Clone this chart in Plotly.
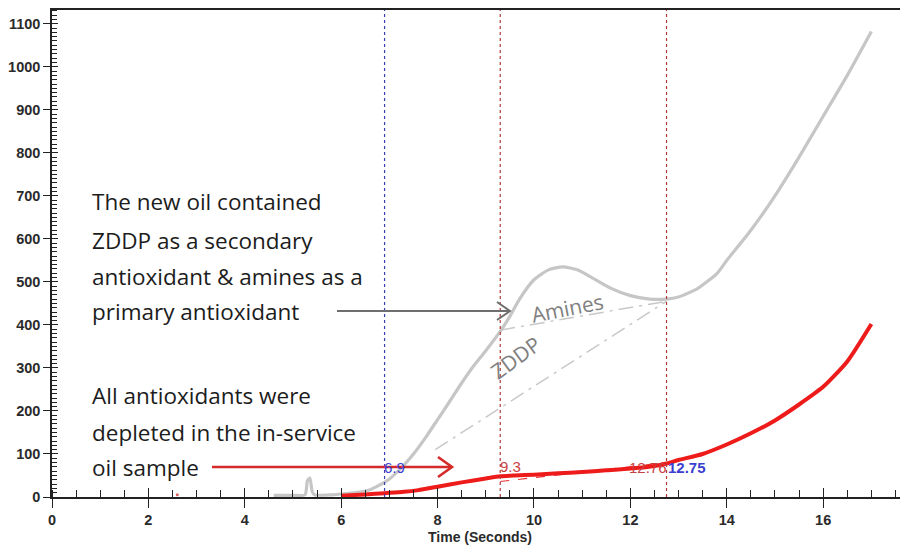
import plotly.graph_objects as go

# ---------------- data ----------------
new_oil_t = [4.6, 5.0, 5.25, 5.3, 5.35, 5.4, 5.45, 5.8, 6.0, 6.3, 6.6, 6.8, 7.0, 7.25, 7.5, 7.75, 8.0, 8.25,
             8.5, 8.75, 9.0, 9.3, 9.5, 9.7, 10.0, 10.3, 10.6, 10.9, 11.2, 11.6, 12.0, 12.4, 12.75, 13.0,
             13.4, 13.8, 14.0, 14.5, 15.0, 15.5, 16.0, 16.5, 17.0]
new_oil_v = [4, 4, 5, 38, 44, 12, 5, 5, 7, 10, 17, 28, 42, 68, 100, 138, 180, 222,
             265, 305, 340, 385, 420, 460, 505, 528, 535, 528, 510, 485, 468, 460, 460, 465,
             485, 520, 550, 620, 700, 790, 885, 980, 1082]

used_oil_t = [6.0, 6.5, 6.9, 7.3, 7.6, 8.0, 8.5, 9.0, 9.3, 9.6, 10.0, 10.5, 11.0, 11.5, 12.0, 12.5,
              12.75, 13.0, 13.5, 14.0, 14.5, 15.0, 15.5, 16.0, 16.5, 17.0]
used_oil_v = [3, 6, 9, 12, 16, 24, 34, 43, 48, 50, 52, 55, 58, 62, 66, 72,
              78, 86, 100, 122, 148, 178, 215, 256, 315, 402]

stray_t = [2.6]
stray_v = [5]

amines_t = [9.3, 12.75]
amines_v = [388, 455]
zddp_t = [7.95, 12.75]
zddp_v = [110, 455]
red_tan_t = [9.3, 12.75]
red_tan_v = [36, 80]

marker_t = [6.9, 9.3, 12.75]
marker_colors = ["#3b3fae", "#b03a3a", "#b03a3a"]

x_ticks = [0, 2, 4, 6, 8, 10, 12, 14, 16]
y_ticks = [0, 100, 200, 300, 400, 500, 600, 700, 800, 900, 1000, 1100]

X_RANGE = [0, 17.76]
Y_RANGE = [0, 1132]

# ---------------- figure ----------------
# the page body adds an 8px offset; positions below are given in window pixels
OFF = 8
W, H = 908 - OFF, 545 - OFF
L, R, T, B = 52 - OFF, 0, 10 - OFF, 48
pw, ph = W - L - R, H - T - B


def px(xp):
    return (xp - OFF - L) / pw


def py(yp):
    return (H - B - (yp - OFF)) / ph


fig = go.Figure()

# construction lines
fig.add_trace(go.Scatter(x=zddp_t, y=zddp_v, mode="lines",
                         line=dict(color="#c8c8c8", width=1.5, dash="longdashdot"), hoverinfo="skip"))
fig.add_trace(go.Scatter(x=amines_t, y=amines_v, mode="lines",
                         line=dict(color="#c8c8c8", width=1.5, dash="longdashdot"), hoverinfo="skip"))
fig.add_trace(go.Scatter(x=red_tan_t, y=red_tan_v, mode="lines",
                         line=dict(color="#e83030", width=1.2, dash="dash"), hoverinfo="skip"))

# curves
fig.add_trace(go.Scatter(x=new_oil_t, y=new_oil_v, mode="lines",
                         line=dict(color="#c6c6c6", width=3.2, shape="spline", smoothing=0.6)))
fig.add_trace(go.Scatter(x=used_oil_t, y=used_oil_v, mode="lines",
                         line=dict(color="#ee1b1b", width=4, shape="spline", smoothing=0.6)))
fig.add_trace(go.Scatter(x=stray_t, y=stray_v, mode="markers",
                         marker=dict(color="#e06060", size=3)))

# dummy trace for overlay axes
fig.add_trace(go.Scatter(x=[0], y=[0], xaxis="x2", yaxis="y2", mode="markers",
                         marker=dict(opacity=0), hoverinfo="skip"))

shapes = []
for t, c in zip(marker_t, marker_colors):
    shapes.append(dict(type="line", xref="x", yref="paper", x0=t, x1=t, y0=0, y1=1,
                       line=dict(color=c, width=1.2, dash="dot")))


# arrows (pixel positions of the callouts)
def arrow(x0, x1, yv, color, width, hl, hh):
    shapes.append(dict(type="line", xref="paper", yref="paper",
                       x0=px(x0), x1=px(x1), y0=py(yv), y1=py(yv),
                       line=dict(color=color, width=width)))
    path = "M {a},{b} L {c},{d} L {e},{f}".format(
        a=px(x1 - hl), b=py(yv - hh), c=px(x1), d=py(yv), e=px(x1 - hl), f=py(yv + hh))
    shapes.append(dict(type="path", xref="paper", yref="paper", path=path,
                       line=dict(color=color, width=width)))


arrow(337, 510, 311, "#6f6f6f", 2, 13, 9)
arrow(212, 452, 467, "#d42a2a", 2.6, 14, 10)

ann = []
text_font = dict(family="Open Sans", size=22.5, color="#1c1c1c")
lines1 = ["The new oil contained", "ZDDP as a secondary", "antioxidant & amines as a", "primary antioxidant"]
ys1 = [202, 240, 276, 311]
for s, yv in zip(lines1, ys1):
    ann.append(dict(xref="paper", yref="paper", x=px(90), y=py(yv), text=s, showarrow=False,
                    xanchor="left", yanchor="middle", font=text_font))
lines2 = ["All antioxidants were", "depleted in the in-service", "oil sample"]
ys2 = [395, 432, 467]
for s, yv in zip(lines2, ys2):
    ann.append(dict(xref="paper", yref="paper", x=px(90), y=py(yv), text=s, showarrow=False,
                    xanchor="left", yanchor="middle", font=text_font))

ann.append(dict(xref="paper", yref="paper", x=px(567), y=py(308), text="Amines", showarrow=False,
                textangle=-11, font=dict(family="Open Sans", size=21, color="#808080")))
ann.append(dict(xref="paper", yref="paper", x=px(515), y=py(388), text="ZDDP", showarrow=False,
                textangle=-36, font=dict(family="Open Sans", size=21, color="#808080")))

lab_font = dict(family="Liberation Sans", size=15)
ann.append(dict(xref="x", yref="paper", x=6.9, y=py(467), text="6.9", showarrow=False,
                xanchor="left", yanchor="middle", xshift=-3, font=dict(lab_font, color="#3b3fd0")))
ann.append(dict(xref="x", yref="paper", x=9.3, y=py(466), text="9.3", showarrow=False,
                xanchor="left", yanchor="middle", xshift=-2, font=dict(lab_font, color="#c84040")))
ann.append(dict(xref="x", yref="paper", x=12.75, y=py(467), text="12.76", showarrow=False,
                xanchor="right", yanchor="middle", xshift=2, font=dict(lab_font, color="#c84040")))
ann.append(dict(xref="x", yref="paper", x=12.75, y=py(467), text="<b>12.75</b>", showarrow=False,
                xanchor="left", yanchor="middle", xshift=-1, font=dict(lab_font, color="#3b3fd0")))

ann.append(dict(xref="paper", yref="paper", x=px(480), y=py(537), text="<b>Time (Seconds)</b>",
                showarrow=False, xanchor="center", yanchor="middle",
                font=dict(family="Liberation Sans", size=14, color="#2a2a2a")))

tick_font = dict(family="Liberation Sans", size=14.5, color="#2a2a2a", weight="bold")

fig.update_layout(
    width=W, height=H, margin=dict(l=L, r=R, t=T, b=B, autoexpand=False),
    paper_bgcolor="white", plot_bgcolor="white", showlegend=False,
    shapes=shapes, annotations=ann,
    xaxis=dict(range=X_RANGE, tickvals=x_ticks, ticktext=[str(v) for v in x_ticks], automargin=False,
               showgrid=False, zeroline=False, showline=True, linecolor="#222", linewidth=1.5,
               mirror=True, ticks="outside", ticklen=9, tickwidth=1.3, tickcolor="#222",
               minor=dict(dtick=0.5, ticks="inside", ticklen=7, tickwidth=1.2, tickcolor="#222"),
               tickfont=tick_font),
    yaxis=dict(range=Y_RANGE, tickvals=y_ticks, ticktext=[str(v) for v in y_ticks], automargin=False,
               showgrid=False, zeroline=False, showline=True, linecolor="#222", linewidth=1.5,
               ticks="outside", ticklen=7, tickwidth=1.3, tickcolor="#222",
               minor=dict(dtick=10, ticks="inside", ticklen=5, tickwidth=1, tickcolor="#222"),
               tickfont=tick_font),
    xaxis2=dict(range=X_RANGE, overlaying="x", anchor="y", side="bottom", tickvals=x_ticks,
                showticklabels=False, ticks="inside", ticklen=9, tickwidth=1.3, tickcolor="#222",
                showgrid=False, zeroline=False, showline=False, automargin=False),
    yaxis2=dict(range=Y_RANGE, overlaying="y", anchor="x", side="left", tickvals=y_ticks,
                showticklabels=False, ticks="inside", ticklen=6, tickwidth=1.3, tickcolor="#222",
                showgrid=False, zeroline=False, showline=False, automargin=False),
)

fig.write_html("out.html")
